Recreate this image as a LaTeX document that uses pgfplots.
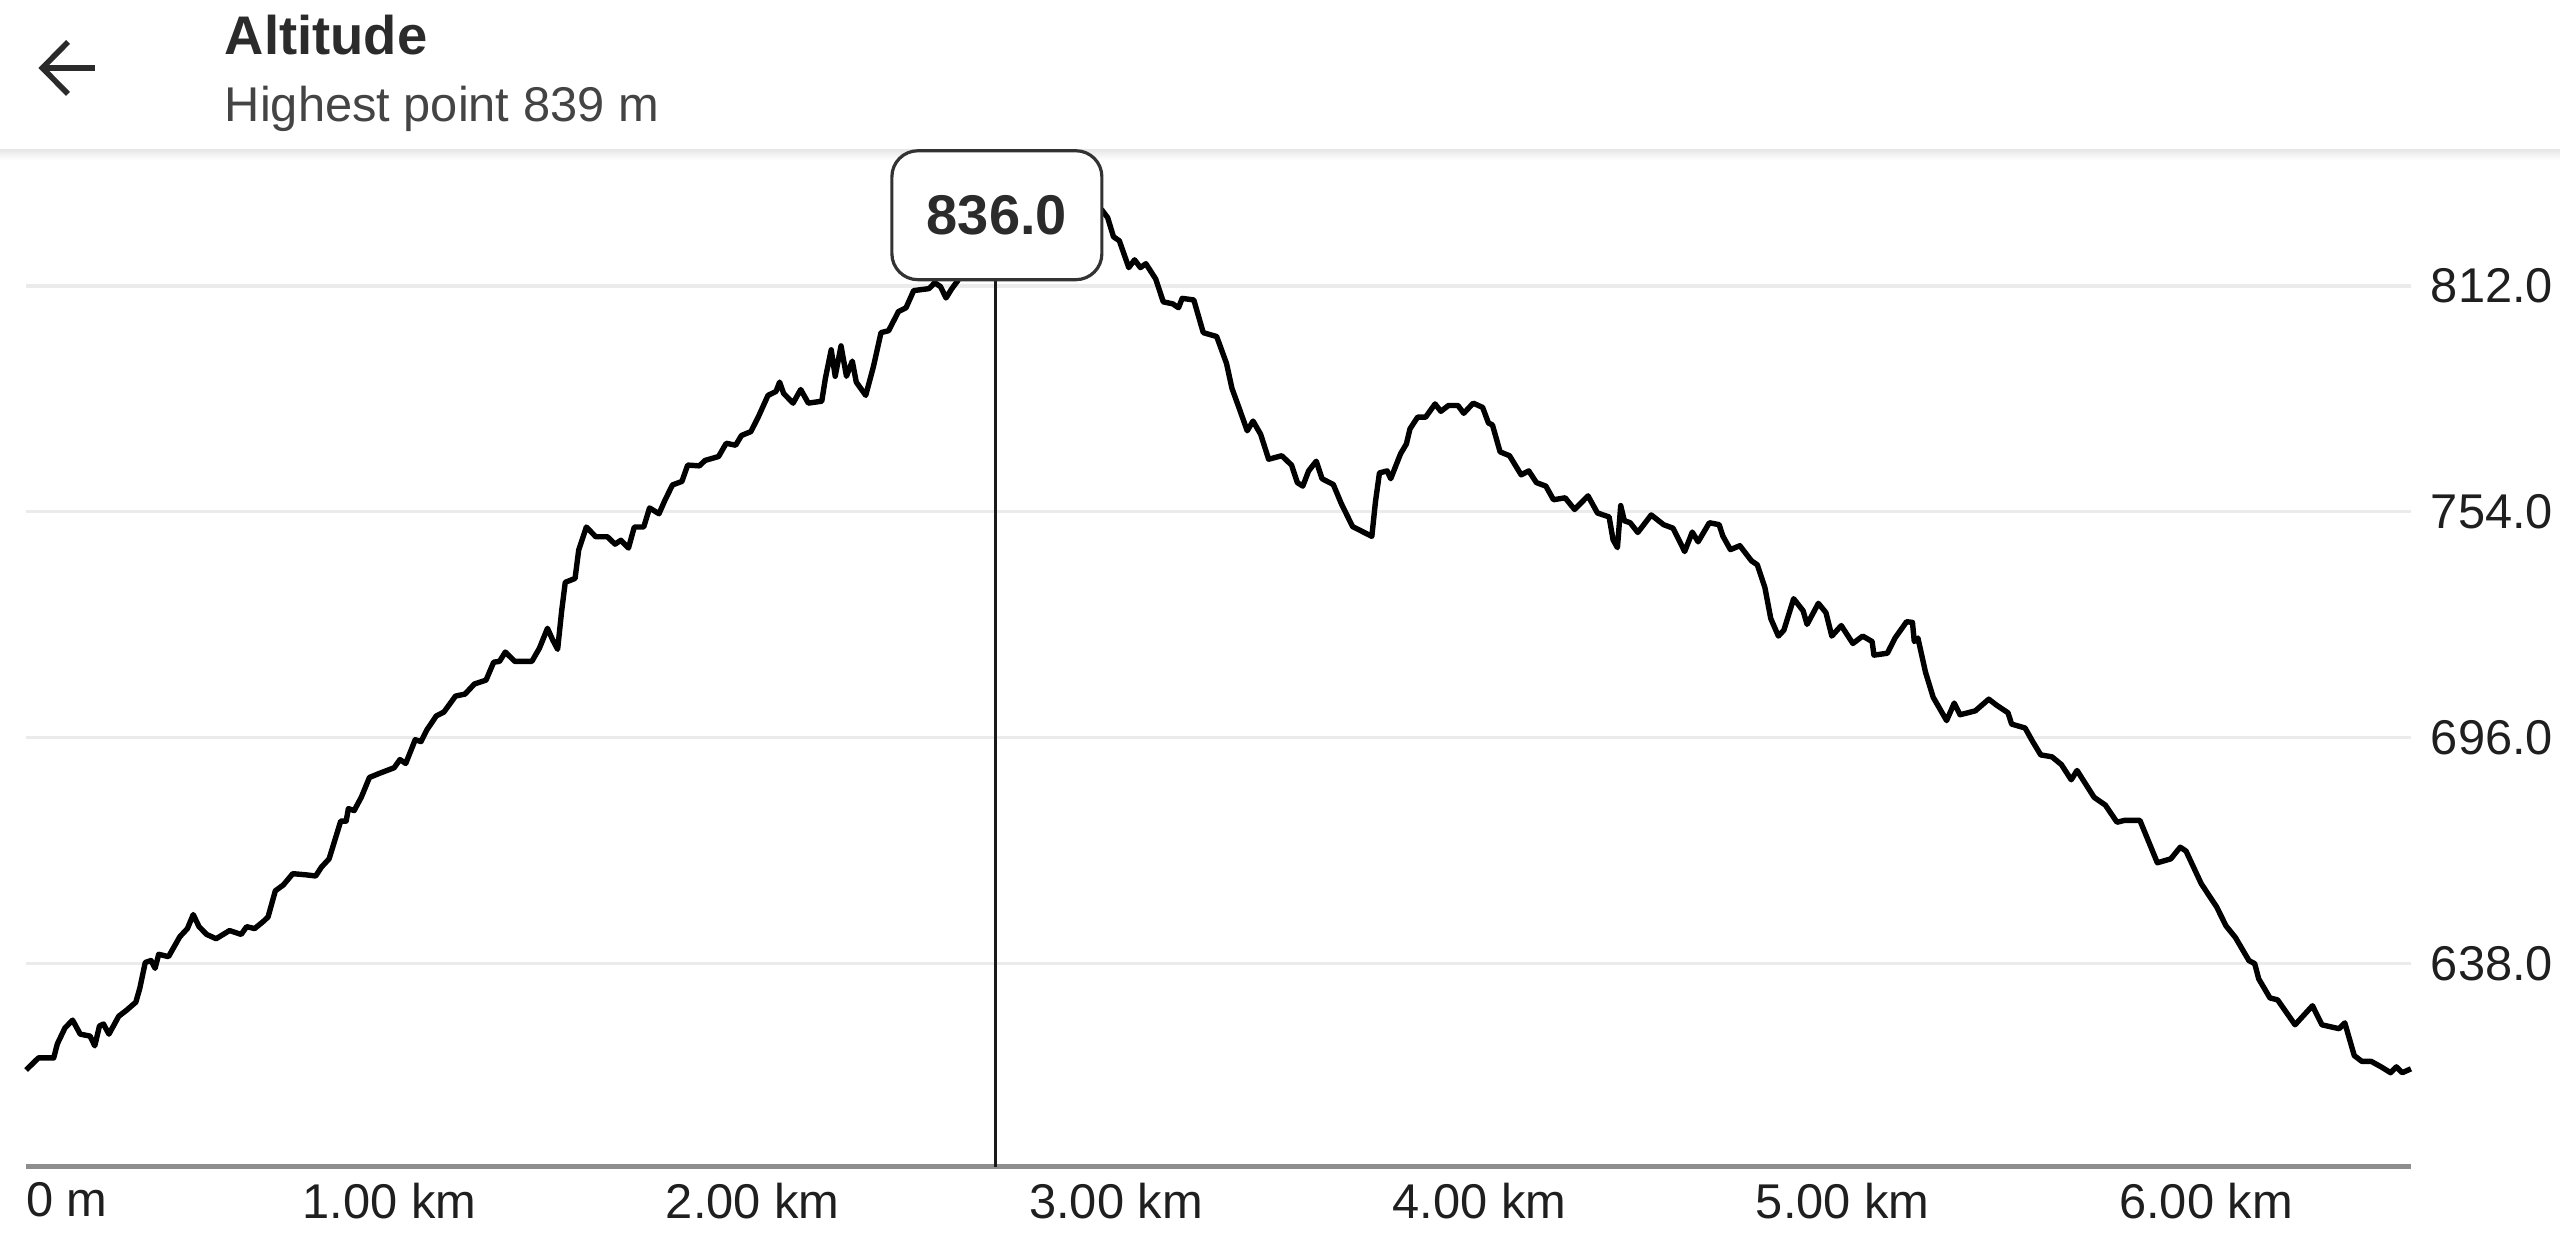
\documentclass[border=0pt]{standalone}
\usepackage{fontspec}
\setmainfont{Liberation Sans}
\usepackage{pgfplots}
\pgfplotsset{compat=1.18}

\definecolor{gridgray}{HTML}{EBEBEB}
\definecolor{axisgray}{HTML}{8E8E8E}
\definecolor{ticktext}{HTML}{1F1F1F}
\definecolor{hdrtext}{HTML}{2B2B2B}
\definecolor{subtext}{HTML}{444444}
\definecolor{tipgray}{HTML}{333333}

\begin{document}
\begin{tikzpicture}
  \useasboundingbox (0,0) rectangle (640pt,312pt);
  \fill[white] (0,0) rectangle (640pt,312pt);

  % header
  \draw[line width=1.4pt, hdrtext] (23.75pt,295pt) -- (11pt,295pt);
  \draw[line width=1.4pt, hdrtext, line join=miter] (17pt,301.5pt) -- (10.6pt,295pt) -- (17pt,288.5pt);
  \node[anchor=base west, inner sep=0pt, text=hdrtext, font=\fontsize{13.6}{16}\selectfont\bfseries] at (56pt,298.25pt) {Altitude};
  \node[anchor=base west, inner sep=0pt, text=subtext, font=\fontsize{12.2}{14}\selectfont] at (56pt,281.6pt) {Highest point 839 m};
  \shade[top color=black!9, bottom color=white] (0,272pt) rectangle (640pt,274.5pt);

  \begin{axis}[
      at={(6.525pt,20.35pt)}, anchor=south west,
      scale only axis,
      width=596.2pt, height=254.15pt,
      xmin=0, xmax=6.564,
      ymin=585.9, ymax=846.9,
      clip=false,
      axis line style={draw=none},
      major tick length=0pt,
      tick style={draw=none},
      ymajorgrids,
      grid style={gridgray, line width=0.8pt},
      xtick={0,1,2,3,4,5,6},
      xticklabels={{\makebox[0pt][l]{0 m}},1.00 km,2.00 km,3.00 km,4.00 km,5.00 km,6.00 km},
      x tick label style={anchor=north, inner sep=0pt, yshift=-3.85pt,
        text=ticktext, font=\fontsize{12.2}{14}\selectfont},
      ytick={638,696,754,812},
      yticklabel pos=right,
      y tick label style={anchor=west, inner sep=0pt, xshift=4.8pt,
        text=ticktext, font=\fontsize{12.2}{14}\selectfont,
        /pgf/number format/.cd, fixed, fixed zerofill, precision=1,
        1000 sep={}, assume math mode=true},
    ]
    \addplot[black, line width=1.35pt, line join=round, mark=none] coordinates {
      (0.000,610.7) (0.034,613.8) (0.076,613.8) (0.086,617.4) (0.107,621.5)
      (0.128,623.5) (0.149,619.9) (0.176,619.4) (0.189,616.9) (0.202,622.0)
      (0.213,622.5) (0.228,619.9) (0.255,624.5) (0.276,626.0) (0.302,628.1)
      (0.313,631.7) (0.328,638.3) (0.344,638.8) (0.355,636.8) (0.365,640.4)
      (0.392,639.8) (0.423,644.9) (0.444,647.0) (0.460,650.6) (0.476,647.5)
      (0.497,645.5) (0.523,644.4) (0.560,646.5) (0.592,645.5) (0.607,647.5)
      (0.629,647.0) (0.655,649.0) (0.666,650.0) (0.686,656.7) (0.708,658.2)
      (0.734,661.1) (0.771,660.8) (0.797,660.5) (0.813,662.8) (0.834,664.9)
      (0.866,674.6) (0.881,674.6) (0.887,677.8) (0.903,677.3) (0.923,680.8)
      (0.945,685.8) (0.971,686.8) (1.013,688.3) (1.029,690.4) (1.045,689.4)
      (1.071,695.5) (1.087,695.0) (1.103,698.0) (1.129,701.6) (1.150,702.6)
      (1.182,706.7) (1.208,707.2) (1.234,709.8) (1.266,710.8) (1.287,715.4)
      (1.303,715.6) (1.319,718.0) (1.345,715.6) (1.392,715.6) (1.413,719.0)
      (1.435,724.1) (1.450,721.0) (1.463,718.7) (1.474,728.5) (1.484,735.9)
      (1.511,736.9) (1.521,744.2) (1.542,750.1) (1.568,747.6) (1.600,747.6)
      (1.621,745.7) (1.637,746.7) (1.658,744.7) (1.674,750.1) (1.700,750.1)
      (1.716,755.0) (1.742,753.5) (1.758,756.9) (1.779,760.9) (1.805,761.8)
      (1.821,766.0) (1.853,765.8) (1.869,767.2) (1.906,768.2) (1.927,771.6)
      (1.953,771.1) (1.969,773.6) (1.995,774.6) (2.016,778.5) (2.042,783.9)
      (2.064,784.9) (2.074,787.3) (2.085,784.4) (2.111,781.9) (2.132,785.4)
      (2.153,781.9) (2.190,782.4) (2.200,788.3) (2.216,795.6) (2.227,788.8)
      (2.243,796.6) (2.258,788.8) (2.274,792.7) (2.285,787.3) (2.311,783.9)
      (2.332,791.2) (2.353,800.0) (2.374,800.5) (2.401,805.4) (2.422,806.4)
      (2.443,810.8) (2.485,811.3) (2.501,812.8) (2.517,811.8) (2.532,808.9)
      (2.548,811.3) (2.564,813.3) (2.600,820.0) (2.640,829.0) (2.669,836.0)
      (2.700,837.0) (2.740,836.0) (2.790,839.0) (2.840,837.0) (2.900,834.0)
      (2.940,832.0) (2.961,831.5) (2.977,829.5) (2.993,824.6) (3.009,823.6)
      (3.035,816.7) (3.051,818.7) (3.067,816.7) (3.082,817.7) (3.109,813.8)
      (3.130,807.9) (3.156,807.4) (3.172,806.4) (3.182,808.8) (3.214,808.4)
      (3.240,800.0) (3.277,799.0) (3.304,792.1) (3.319,785.7) (3.340,780.3)
      (3.361,774.8) (3.377,777.3) (3.398,773.9) (3.420,767.5) (3.456,768.4)
      (3.483,766.0) (3.499,761.5) (3.514,760.6) (3.530,764.5) (3.551,767.0)
      (3.567,762.5) (3.598,761.0) (3.620,756.1) (3.651,750.2) (3.683,748.7)
      (3.704,747.7) (3.714,756.6) (3.725,764.0) (3.746,764.5) (3.756,762.5)
      (3.783,768.9) (3.799,771.4) (3.809,775.3) (3.830,778.3) (3.852,778.3)
      (3.878,781.7) (3.894,779.8) (3.915,781.3) (3.941,781.3) (3.957,779.3)
      (3.983,781.9) (4.009,780.8) (4.025,776.8) (4.036,776.3) (4.057,769.4)
      (4.083,768.4) (4.115,763.5) (4.136,764.5) (4.157,761.5) (4.183,760.6)
      (4.204,757.1) (4.236,757.6) (4.262,754.6) (4.299,758.1) (4.325,753.7)
      (4.357,752.7) (4.368,746.8) (4.380,744.8) (4.389,755.6) (4.399,751.7)
      (4.415,751.2) (4.436,748.7) (4.473,753.2) (4.507,750.7) (4.533,749.8)
      (4.565,743.8) (4.586,748.8) (4.602,746.3) (4.633,751.2) (4.660,750.7)
      (4.670,747.8) (4.691,744.3) (4.717,745.3) (4.749,741.4) (4.765,740.4)
      (4.786,734.5) (4.802,726.6) (4.823,722.1) (4.838,723.6) (4.865,731.7)
      (4.891,728.6) (4.902,725.1) (4.933,730.5) (4.954,728.1) (4.970,722.1)
      (4.996,724.8) (5.028,720.2) (5.055,722.1) (5.081,720.7) (5.086,717.2)
      (5.123,717.7) (5.144,721.6) (5.176,725.8) (5.192,725.6) (5.197,720.7)
      (5.207,721.6) (5.228,712.8) (5.249,706.4) (5.286,700.4) (5.307,704.9)
      (5.323,701.9) (5.365,702.9) (5.402,705.9) (5.423,704.4) (5.455,702.4)
      (5.465,699.5) (5.502,698.5) (5.523,695.0) (5.545,691.6) (5.576,691.1)
      (5.602,689.1) (5.629,685.2) (5.645,687.6) (5.692,680.7) (5.723,678.7)
      (5.755,674.3) (5.776,674.8) (5.818,674.8) (5.866,663.9) (5.903,664.9)
      (5.929,667.9) (5.945,666.9) (5.987,658.5) (6.029,652.6) (6.055,647.7)
      (6.081,644.7) (6.118,638.8) (6.134,638.0) (6.145,634.1) (6.176,629.2)
      (6.197,628.7) (6.245,622.3) (6.293,627.2) (6.319,622.3) (6.366,621.3)
      (6.382,622.8) (6.408,614.4) (6.429,612.9) (6.455,612.9) (6.482,611.5)
      (6.508,610.0) (6.524,611.5) (6.540,610.0) (6.564,611.0)
    };
    % baseline, cursor and tooltip
    \draw[axisgray, line width=1.25pt] (rel axis cs:0,0) -- (rel axis cs:1,0);
    \draw[black!90, line width=0.8pt] (axis cs:2.669,585.9) -- (axis cs:2.669,813.6);
    \draw[tipgray, line width=0.8pt, fill=white, rounded corners=6.5pt]
      (axis cs:2.383,813.6) rectangle (axis cs:2.961,846.7);
    \node[text=hdrtext, font=\fontsize{14}{16}\selectfont\bfseries] at (axis cs:2.672,830.2) {836.0};
  \end{axis}
\end{tikzpicture}
\end{document}
